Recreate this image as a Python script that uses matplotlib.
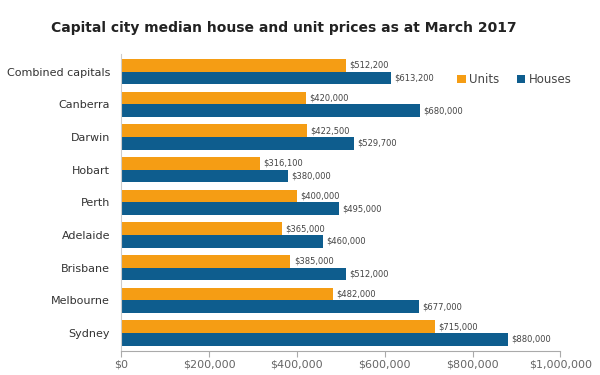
import matplotlib.pyplot as plt
import numpy as np

# capital city median prices, March 2017
cities = ["Combined capitals", "Canberra", "Darwin", "Hobart", "Perth",
          "Adelaide", "Brisbane", "Melbourne", "Sydney"]
units = [512200, 420000, 422500, 316100, 400000, 365000, 385000, 482000, 715000]
houses = [613200, 680000, 529700, 380000, 495000, 460000, 512000, 677000, 880000]
xticks = [0, 200000, 400000, 600000, 800000, 1000000]

orange = "#f59d14"
blue = "#0e5d8e"

fig = plt.figure(figsize=(6, 3.75), dpi=100)
ax = fig.add_axes([0.202, 0.064, 0.732, 0.793])

y = np.arange(len(cities))[::-1].astype(float)
h = 0.39
b1 = ax.barh(y + h/2, units, height=h, color=orange, label="Units")
b2 = ax.barh(y - h/2, houses, height=h, color=blue, label="Houses")

for bars, vals in ((b1, units), (b2, houses)):
    for r, v in zip(bars, vals):
        ax.text(v + 8000, r.get_y() + r.get_height()/2, "${:,}".format(v),
                va="center", ha="left", fontsize=6, color="#444444")

ax.set_xlim(0, 1000000)
ax.set_ylim(-0.55, len(cities) - 0.45)
ax.set_xticks(xticks)
ax.set_xticklabels(["${:,}".format(t) for t in xticks], fontsize=8, color="#666666")
ax.set_yticks(y)
ax.set_yticklabels(cities, fontsize=8, color="#333333")
ax.tick_params(axis="y", length=0, pad=8)
ax.tick_params(axis="x", length=4, color="#aaaaaa", pad=2)

for s in ("top", "right"):
    ax.spines[s].set_visible(False)
ax.spines["bottom"].set_color("#aaaaaa")
ax.spines["left"].set_color("#cccccc")

fig.text(0.085, 0.915, "Capital city median house and unit prices as at March 2017",
         fontsize=10, fontweight="bold", color="#222222")

ax.legend(loc="upper right", bbox_to_anchor=(1.05, 0.97), ncol=2, frameon=False,
          fontsize=8.5, handlelength=0.7, handleheight=0.7, columnspacing=1.5,
          handletextpad=0.3, labelcolor="#444444")

fig.savefig("out.png")
